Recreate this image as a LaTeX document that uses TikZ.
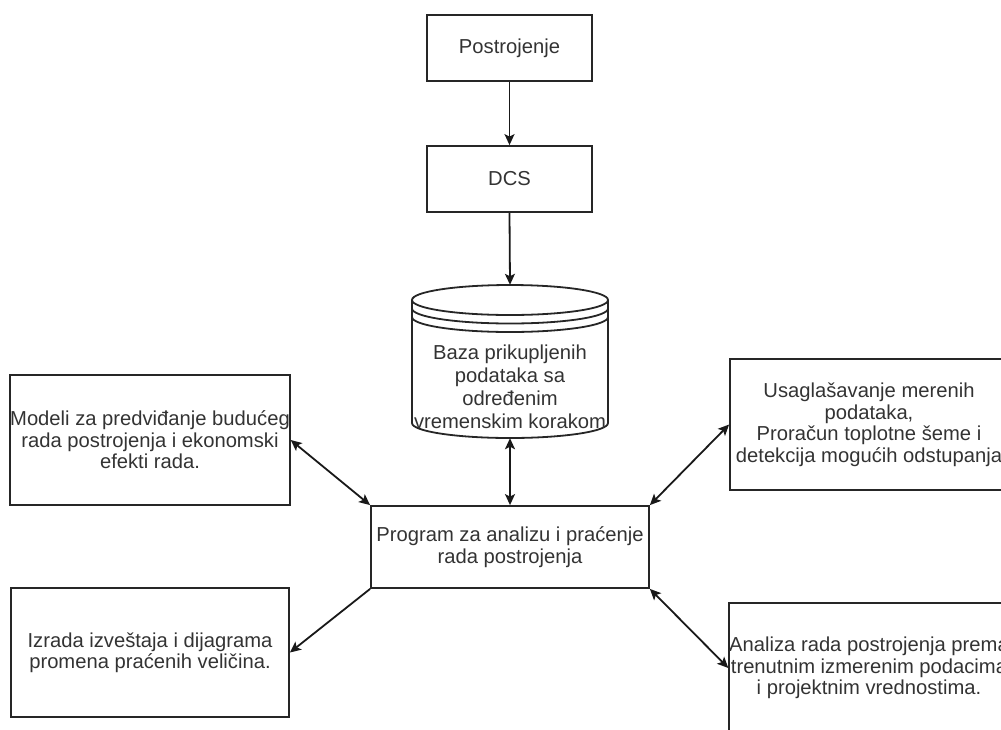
\documentclass[tikz,border=0pt]{standalone}
\usepackage{fontspec}
\setmainfont{Liberation Sans}
\usetikzlibrary{arrows.meta}
\begin{document}
\begin{tikzpicture}[x=1pt,y=-1pt,
  box/.style={draw=black!85,line width=1.8pt,rectangle,inner sep=0pt,
    align=center,text=black!80,font=\fontsize{20.2}{21.5}\selectfont},
  conn/.style={line width=1.8pt,draw=black!90},
  >={Stealth[length=11pt,width=10pt,inset=2.5pt]}]
\useasboundingbox (0,0) rectangle (1001,729);
\clip (0,0) rectangle (1001,729);

% process chain at the top
\node[box,minimum width=165pt,minimum height=66pt] (post) at (509.5,48) {Postrojenje};
\node[box,minimum width=165pt,minimum height=66pt] (dcs) at (509.5,179) {DCS};

% data store: invisible frame for anchors, drawn outline, text
\node[minimum width=196pt,minimum height=153pt,inner sep=0pt] (db) at (510,361.5) {};
\begin{scope}[line width=1.8pt,draw=black!85]
  \draw (412,300) arc[start angle=180,end angle=360,x radius=98,y radius=15]
        -- (608,423) arc[start angle=0,end angle=180,x radius=98,y radius=15] -- cycle;
  \draw (412,300) arc[start angle=180,end angle=0,x radius=98,y radius=15];
  \draw (412,308.5) arc[start angle=180,end angle=0,x radius=98,y radius=15];
  \draw (412,317) arc[start angle=180,end angle=0,x radius=98,y radius=15];
\end{scope}
\node[align=center,text=black!80,font=\fontsize{20.2}{23}\selectfont] (dbtext) at (510,387)
  {Baza prikupljenih\\podataka sa\\određenim\\vremenskim korakom};

% central program
\node[box,minimum width=278pt,minimum height=82pt] (prog) at (510,547)
  {Program za analizu i praćenje\\rada postrojenja};

% surrounding modules
\node[box,minimum width=278pt,minimum height=130pt] (lt) at (150,440)
  {Modeli za predviđanje budućeg\\rada postrojenja i ekonomski\\efekti rada.};
\node[box,minimum width=278pt,minimum height=129pt] (lb) at (150,652.5)
  {Izrada izveštaja i dijagrama\\promena praćenih veličina.};
\node[box,minimum width=278pt,minimum height=131pt] (rt) at (869,424.5)
  {Usaglašavanje merenih\\podataka,\\Proračun toplotne šeme i\\detekcija mogućih odstupanja};
\node[box,minimum width=278pt,minimum height=130pt] (rb) at (869,668)
  {Analiza rada postrojenja prema\\trenutnim izmerenim podacima\\i projektnim vrednostima.};

% connectors
\draw[conn,->] (post.south) -- (dcs.north);
\draw[conn,->] (dcs.south) -- (db.north);
\draw[conn,<->] (db.south) -- (prog.north);
\draw[conn,<->] (lt.east) -- (prog.north west);
\draw[conn,->] (prog.south west) -- (lb.east);
\draw[conn,<->] (prog.north east) -- (rt.west);
\draw[conn,<->] (prog.south east) -- (rb.west);
\end{tikzpicture}
\end{document}
